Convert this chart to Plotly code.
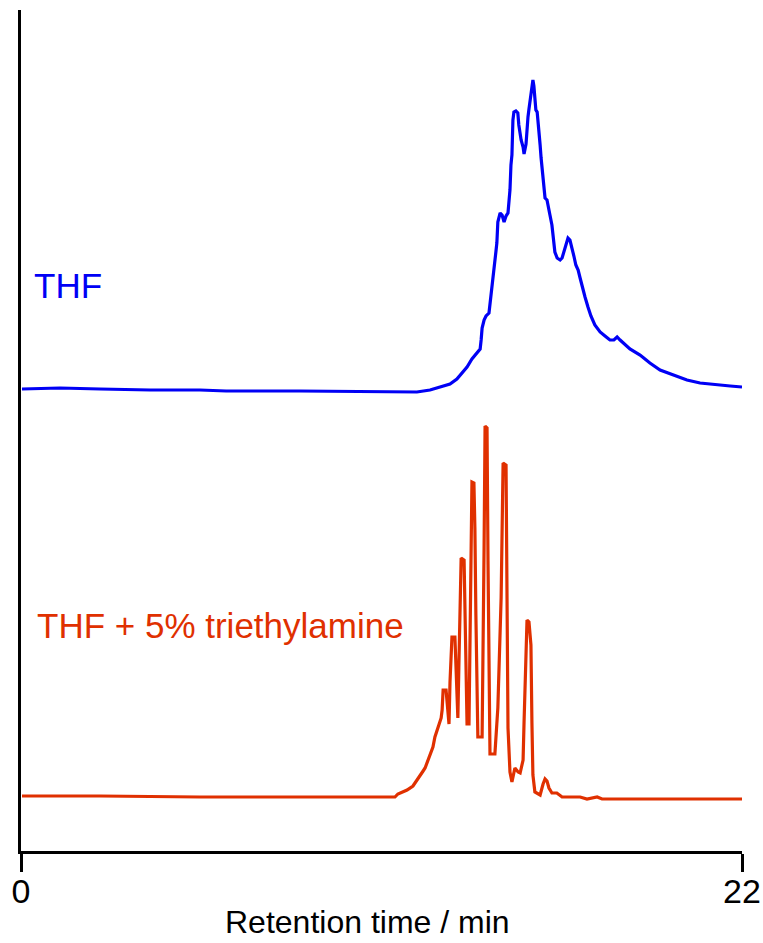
import plotly.graph_objects as go

# Retention time (min) and detector signal (arbitrary units)
thf_time = [0.03, 1.19, 2.41, 3.94, 5.46, 6.26, 8.51, 10.95, 12.08, 12.48, 12.78, 13.09,
            13.30, 13.49, 13.61, 13.76, 13.88, 14.01, 14.04, 14.07, 14.13, 14.19, 14.28,
            14.31, 14.37, 14.43, 14.49, 14.52, 14.55, 14.62, 14.68, 14.74, 14.80, 14.86,
            14.89, 14.92, 14.95, 14.98, 15.01, 15.04, 15.10, 15.16, 15.19, 15.26, 15.32,
            15.35, 15.41, 15.44, 15.47, 15.50, 15.53, 15.56, 15.59, 15.62, 15.65, 15.68,
            15.71, 15.75, 15.78, 15.81, 15.84, 15.87, 15.93, 15.96, 15.99, 16.05, 16.11,
            16.14, 16.20, 16.26, 16.29, 16.36, 16.45, 16.51, 16.57, 16.63, 16.69, 16.75,
            16.81, 16.87, 16.93, 17.00, 17.06, 17.12, 17.21, 17.30, 17.39, 17.51, 17.67,
            17.82, 17.97, 18.09, 18.19, 18.28, 18.43, 18.58, 18.89, 19.19, 19.50, 19.89,
            20.32, 20.72, 21.24, 21.64, 22.00]
thf_signal = [462, 463, 462, 461, 461, 460, 460, 459, 459, 461, 464, 467,
              472, 479, 484, 492, 497, 502, 511, 523, 531, 535, 538,
              546, 561, 578, 599, 608, 629, 638, 636, 629, 635, 638,
              651, 661, 686, 696, 731, 739, 740, 738, 726, 711, 704,
              697, 707, 723, 734, 742, 751, 759, 769, 771, 765, 755,
              741, 739, 729, 724, 706, 693, 676, 661, 653, 651, 643,
              636, 626, 611, 599, 593, 591, 593, 599, 607, 613, 611,
              604, 595, 586, 581, 573, 564, 554, 544, 535, 526, 519,
              515, 511, 511, 514, 511, 506, 502, 496, 488, 481, 476,
              471, 468, 466, 465, 464]

tea_time = [0.03, 2.41, 5.46, 8.51, 10.95, 11.41, 11.50, 11.78, 11.96, 12.11, 12.27,
            12.33, 12.48, 12.57, 12.63, 12.72, 12.82, 12.85, 12.88, 12.97, 13.03, 13.06,
            13.09, 13.15, 13.24, 13.27, 13.30, 13.33, 13.36, 13.43, 13.52, 13.55, 13.58,
            13.61, 13.67, 13.70, 13.73, 13.76, 13.82, 13.85, 13.88, 13.91, 13.94, 14.07,
            14.10, 14.13, 14.16, 14.22, 14.25, 14.28, 14.31, 14.46, 14.55, 14.65, 14.71,
            14.80, 14.83, 14.86, 14.92, 14.98, 15.07, 15.17, 15.23, 15.32, 15.35, 15.44,
            15.50, 15.56, 15.59, 15.62, 15.68, 15.84, 15.93, 15.99, 16.05, 16.11, 16.20,
            16.35, 16.51, 16.90, 17.06, 17.27, 17.58, 17.73, 18.37, 19.89, 22.00]
tea_signal = [55, 55, 54, 54, 54, 54, 57, 61, 65, 73, 80,
              83, 97, 104, 114, 123, 133, 141, 161, 161, 136, 127,
              169, 214, 214, 183, 145, 133, 183, 293, 291, 228, 143,
              127, 127, 213, 298, 369, 368, 323, 236, 143, 114, 114,
              196, 303, 425, 423, 289, 136, 97, 97, 143, 253, 388,
              386, 281, 123, 79, 69, 83, 79, 78, 91, 129, 231,
              229, 206, 128, 76, 59, 56, 67, 72, 70, 63, 58,
              58, 54, 54, 54, 52, 54, 52, 52, 52, 52]

x_ticks = [0, 22]
x_tick_labels = ["0", "22"]

BLUE = "#0000F5"
RED = "#E03000"
FONT = "Liberation Sans, Arial, sans-serif"

fig = go.Figure()
fig.add_trace(go.Scatter(x=thf_time, y=thf_signal, mode="lines",
                         line=dict(color=BLUE, width=3.2), name="THF"))
fig.add_trace(go.Scatter(x=tea_time, y=tea_signal, mode="lines",
                         line=dict(color=RED, width=3.2), name="THF + 5% triethylamine"))

fig.add_annotation(x=0.35, y=566, xref="x", yref="y", text="THF", showarrow=False,
                   xanchor="left", yanchor="middle", font=dict(family=FONT, size=35, color=BLUE))
fig.add_annotation(x=0.44, y=226, xref="x", yref="y", text="THF + 5% triethylamine",
                   showarrow=False, xanchor="left", yanchor="middle",
                   font=dict(family=FONT, size=35, color=RED))
fig.add_annotation(x=0.481, y=-0.0844, xref="paper", yref="paper", text="Retention time / min",
                   showarrow=False, xanchor="center", yanchor="middle",
                   font=dict(family=FONT, size=32, color="black"))

fig.update_layout(
    width=763, height=943,
    margin=dict(l=21, r=21, t=10, b=92, autoexpand=False),
    paper_bgcolor="white", plot_bgcolor="white",
    showlegend=False,
    font=dict(family=FONT, color="black"),
)
fig.update_xaxes(range=[0, 22], tickvals=x_ticks, ticktext=x_tick_labels,
                 showline=True, linecolor="black", linewidth=3,
                 ticks="outside", ticklen=18, tickwidth=3, tickcolor="black",
                 tickfont=dict(family=FONT, size=34, color="black"),
                 ticklabelstandoff=-10, automargin=False,
                 showgrid=False, zeroline=False)
fig.update_yaxes(range=[0, 841], showline=True, linecolor="black", linewidth=3,
                 showticklabels=False, ticks="", showgrid=False, zeroline=False,
                 automargin=False)

fig.write_html("out.html")
